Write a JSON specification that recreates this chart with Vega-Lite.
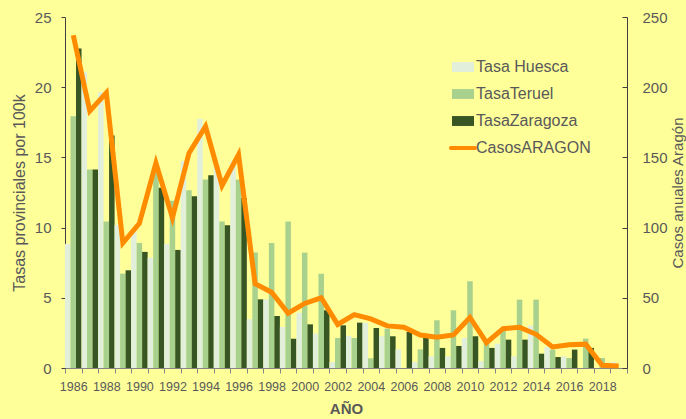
{
  "$schema": "https://vega.github.io/schema/vega-lite/v6.json",
  "width": 562,
  "height": 351,
  "autosize": {"type": "none"},
  "padding": {"left": 65, "top": 17, "right": 59, "bottom": 51},
  "background": "#FFFF99",
  "config": {"view": {"stroke": null}, "font": "Liberation Sans"},
  "data": {
    "values": [
      {"year": 1986, "Tasa Huesca": 8.84, "TasaTeruel": 17.93, "TasaZaragoza": 22.76, "CasosARAGON": 237},
      {"year": 1987, "Tasa Huesca": 21.09, "TasaTeruel": 14.13, "TasaZaragoza": 14.13, "CasosARAGON": 183},
      {"year": 1988, "Tasa Huesca": 19.64, "TasaTeruel": 10.43, "TasaZaragoza": 16.56, "CasosARAGON": 196},
      {"year": 1989, "Tasa Huesca": 10.2, "TasaTeruel": 6.72, "TasaZaragoza": 6.96, "CasosARAGON": 89},
      {"year": 1990, "Tasa Huesca": 9.76, "TasaTeruel": 8.91, "TasaZaragoza": 8.27, "CasosARAGON": 103},
      {"year": 1991, "Tasa Huesca": 7.86, "TasaTeruel": 13.9, "TasaZaragoza": 12.83, "CasosARAGON": 146},
      {"year": 1992, "Tasa Huesca": 8.84, "TasaTeruel": 11.92, "TasaZaragoza": 8.41, "CasosARAGON": 107},
      {"year": 1993, "Tasa Huesca": 14.75, "TasaTeruel": 12.66, "TasaZaragoza": 12.23, "CasosARAGON": 153},
      {"year": 1994, "Tasa Huesca": 17.73, "TasaTeruel": 13.42, "TasaZaragoza": 13.73, "CasosARAGON": 172},
      {"year": 1995, "Tasa Huesca": 14.5, "TasaTeruel": 10.43, "TasaZaragoza": 10.17, "CasosARAGON": 130},
      {"year": 1996, "Tasa Huesca": 14.75, "TasaTeruel": 13.42, "TasaZaragoza": 12.11, "CasosARAGON": 152},
      {"year": 1997, "Tasa Huesca": 3.47, "TasaTeruel": 8.22, "TasaZaragoza": 4.89, "CasosARAGON": 60},
      {"year": 1998, "Tasa Huesca": 4.89, "TasaTeruel": 8.91, "TasaZaragoza": 3.71, "CasosARAGON": 54},
      {"year": 1999, "Tasa Huesca": 2.92, "TasaTeruel": 10.43, "TasaZaragoza": 2.09, "CasosARAGON": 39},
      {"year": 2000, "Tasa Huesca": 3.94, "TasaTeruel": 8.22, "TasaZaragoza": 3.11, "CasosARAGON": 46},
      {"year": 2001, "Tasa Huesca": 2.45, "TasaTeruel": 6.72, "TasaZaragoza": 4.11, "CasosARAGON": 50},
      {"year": 2002, "Tasa Huesca": 0.43, "TasaTeruel": 2.14, "TasaZaragoza": 3.04, "CasosARAGON": 31},
      {"year": 2003, "Tasa Huesca": 2.3, "TasaTeruel": 2.14, "TasaZaragoza": 3.23, "CasosARAGON": 38},
      {"year": 2004, "Tasa Huesca": 3.23, "TasaTeruel": 0.69, "TasaZaragoza": 2.85, "CasosARAGON": 35},
      {"year": 2005, "Tasa Huesca": 2.26, "TasaTeruel": 2.8, "TasaZaragoza": 2.26, "CasosARAGON": 30},
      {"year": 2006, "Tasa Huesca": 1.33, "TasaTeruel": 0, "TasaZaragoza": 2.57, "CasosARAGON": 29},
      {"year": 2007, "Tasa Huesca": 0.43, "TasaTeruel": 1.33, "TasaZaragoza": 2.14, "CasosARAGON": 23.5},
      {"year": 2008, "Tasa Huesca": 0.83, "TasaTeruel": 3.4, "TasaZaragoza": 1.43, "CasosARAGON": 22},
      {"year": 2009, "Tasa Huesca": 0.83, "TasaTeruel": 4.11, "TasaZaragoza": 1.57, "CasosARAGON": 23.5},
      {"year": 2010, "Tasa Huesca": 2.14, "TasaTeruel": 6.18, "TasaZaragoza": 2.26, "CasosARAGON": 36},
      {"year": 2011, "Tasa Huesca": 0.5, "TasaTeruel": 2.02, "TasaZaragoza": 1.43, "CasosARAGON": 18},
      {"year": 2012, "Tasa Huesca": 1.73, "TasaTeruel": 2.73, "TasaZaragoza": 2.02, "CasosARAGON": 28},
      {"year": 2013, "Tasa Huesca": 0.83, "TasaTeruel": 4.87, "TasaZaragoza": 2.02, "CasosARAGON": 29},
      {"year": 2014, "Tasa Huesca": 3.02, "TasaTeruel": 4.87, "TasaZaragoza": 1.02, "CasosARAGON": 24},
      {"year": 2015, "Tasa Huesca": 1.5, "TasaTeruel": 1.31, "TasaZaragoza": 0.78, "CasosARAGON": 15},
      {"year": 2016, "Tasa Huesca": 0.83, "TasaTeruel": 0.71, "TasaZaragoza": 1.31, "CasosARAGON": 16.5},
      {"year": 2017, "Tasa Huesca": 0, "TasaTeruel": 2.09, "TasaZaragoza": 1.43, "CasosARAGON": 17},
      {"year": 2018, "Tasa Huesca": 0, "TasaTeruel": 0.71, "TasaZaragoza": 0, "CasosARAGON": 2},
      {"year": 2019, "Tasa Huesca": 0.43, "TasaTeruel": 0, "TasaZaragoza": 0, "CasosARAGON": 1.5}
    ]
  },
  "layer": [
    {
      "transform": [{"fold": ["Tasa Huesca", "TasaTeruel", "TasaZaragoza"], "as": ["serie", "tasa"]}],
      "mark": {"type": "bar"},
      "encoding": {
        "x": {
          "field": "year",
          "type": "ordinal",
          "scale": {"paddingInner": 0, "paddingOuter": 0},
          "axis": {
            "title": "AÑO",
            "titleFontWeight": "bold",
            "titleFontSize": 15,
            "titleColor": "#595959",
            "titlePadding": 9,
            "labelAngle": 0,
            "labelFont": "Liberation Sans",
            "labelFontSize": 12.5,
            "labelColor": "#595959",
            "labelPadding": 7,
            "labelOverlap": false,
            "labelExpr": "datum.value % 2 == 0 ? datum.label : ''",
            "tickBand": "extent",
            "tickSize": 5,
            "tickColor": "#868686",
            "domainColor": "#868686"
          }
        },
        "xOffset": {
          "field": "serie",
          "type": "nominal",
          "sort": ["Tasa Huesca", "TasaTeruel", "TasaZaragoza"],
          "scale": {"paddingInner": 0, "paddingOuter": 0}
        },
        "y": {
          "field": "tasa",
          "type": "quantitative",
          "scale": {"domain": [0, 25]},
          "axis": {
            "title": "Tasas provinciales por 100k",
            "values": [0, 5, 10, 15, 20, 25],
            "grid": false,
            "domainColor": "#404040",
            "tickColor": "#404040",
            "tickSize": 4,
            "labelFontSize": 15,
            "labelColor": "#595959",
            "labelPadding": 10,
            "titleFontSize": 16,
            "titleFontWeight": "normal",
            "titleColor": "#595959",
            "titlePadding": 7
          }
        },
        "color": {
          "field": "serie",
          "type": "nominal",
          "scale": {
            "domain": ["Tasa Huesca", "TasaTeruel", "TasaZaragoza", "CasosARAGON"],
            "range": ["#E2EFDA", "#A9D18E", "#375623", "#FF8C00"]
          },
          "legend": {
            "orient": "none",
            "legendX": 390,
            "legendY": 42,
            "title": null,
            "padding": 0,
            "symbolSize": 484,
            "symbolOpacity": 1,
            "labelFontSize": 16,
            "labelColor": "#595959",
            "labelFont": "Liberation Sans",
            "labelOffset": 5,
            "rowPadding": 11,
            "encode": {
              "symbols": {
                "update": {
                  "shape": {"signal": "datum.value == 'CasosARAGON' ? 'M-1.1,0H1.1' : 'M-1,-0.45H1V0.45H-1Z'"},
                  "fill": {"signal": "datum.value == 'CasosARAGON' ? 'transparent' : scale('color', datum.value)"},
                  "stroke": {"signal": "datum.value == 'CasosARAGON' ? scale('color', datum.value) : 'transparent'"},
                  "strokeWidth": {"signal": "datum.value == 'CasosARAGON' ? 4 : 0"},
                  "strokeCap": {"value": "round"},
                  "opacity": {"value": 1}
                }
              }
            }
          }
        }
      }
    },
    {
      "mark": {"type": "line", "strokeWidth": 5},
      "encoding": {
        "x": {"field": "year", "type": "ordinal"},
        "y": {
          "field": "CasosARAGON",
          "type": "quantitative",
          "scale": {"domain": [0, 250]},
          "axis": {
            "orient": "right",
            "title": "Casos anuales Aragón",
            "titleAngle": -90,
            "values": [0, 50, 100, 150, 200, 250],
            "grid": false,
            "domainColor": "#404040",
            "tickColor": "#404040",
            "tickSize": -5,
            "labelFontSize": 15,
            "labelColor": "#595959",
            "labelPadding": 20,
            "titleFontSize": 15,
            "titleFontWeight": "normal",
            "titleColor": "#595959",
            "titlePadding": 18
          }
        },
        "color": {"datum": "CasosARAGON", "type": "nominal"}
      }
    }
  ],
  "resolve": {"scale": {"y": "independent"}}
}
